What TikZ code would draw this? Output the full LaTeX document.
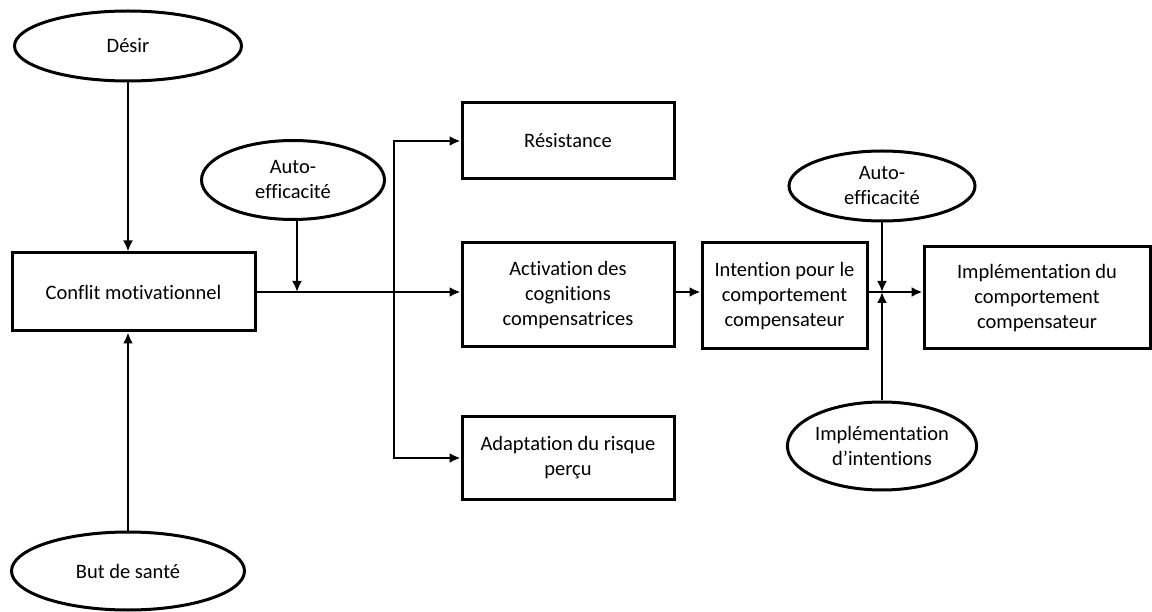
\documentclass[tikz,border=0pt]{standalone}
\usepackage{fontspec}
\setmainfont{Carlito}[Ligatures=NoCommon]
\usetikzlibrary{shapes.geometric, arrows.meta}

\begin{document}
\begin{tikzpicture}[
    x=1pt, y=-1pt,
    box/.style={rectangle, draw, line width=3pt, align=center, inner sep=0pt, font=\fontsize{20.5}{25}\selectfont},
    oval/.style={ellipse, draw, line width=3pt, align=center, inner sep=0pt, font=\fontsize{20.5}{25}\selectfont},
    arrow/.style={-{Latex[length=11pt, width=10pt]}, line width=2.4pt}
]
    \useasboundingbox (0,0) rectangle (1152,612);

    % Antecedents
    \node[oval, minimum width=227, minimum height=70] (desir) at (128, 46) {Désir};
    \node[oval, minimum width=233, minimum height=78] (but) at (128, 571) {But de santé};

    % Conflict
    \node[box, minimum width=243, minimum height=78] (conflit) at (133.5, 292) {Conflit motivationnel};
    \node[oval, minimum width=183, minimum height=79] (auto1) at (293, 180) {Auto-\\efficacité};

    % Strategies
    \node[box, minimum width=212, minimum height=76] (res) at (568, 141) {Résistance};
    \node[box, minimum width=212, minimum height=104] (activ) at (568, 295) {Activation des\\cognitions\\compensatrices};
    \node[box, minimum width=212, minimum height=83] (adapt) at (568, 458) {Adaptation du risque\\perçu};

    % Intention and behaviour
    \node[box, minimum width=165, minimum height=106] (intent) at (784.5, 296) {Intention pour le\\comportement\\compensateur};
    \node[box, minimum width=226, minimum height=102] (impl) at (1037, 298) {Implémentation du\\comportement\\compensateur};
    \node[oval, minimum width=186, minimum height=70] (auto2) at (882, 186) {Auto-\\efficacité};
    \node[oval, minimum width=183, minimum height=88] (implint) at (882, 446) {Implémentation\\d’intentions};

    % Junctions
    \coordinate (fork) at (297, 292);
    \coordinate (split) at (394, 292);
    \coordinate (meet) at (882, 292);

    % Arrows
    \draw[arrow] (desir.south) -- (desir.south |- conflit.north);
    \draw[arrow] (but.north) -- (but.north |- conflit.south);
    \draw[arrow] (conflit.east) -- (conflit.east -| activ.west);
    \draw[arrow] (fork |- auto1.south) -- (fork);
    \draw[arrow] (split) |- (res.west);
    \draw[arrow] (split) |- (adapt.west);
    \draw[arrow] (activ.east |- fork) -- (intent.west |- fork);
    \draw[arrow] (intent.east |- meet) -- (impl.west |- meet);
    \draw[arrow] (auto2.south) -- (meet);
    \draw[arrow] (implint.north) -- (meet);
\end{tikzpicture}
\end{document}
